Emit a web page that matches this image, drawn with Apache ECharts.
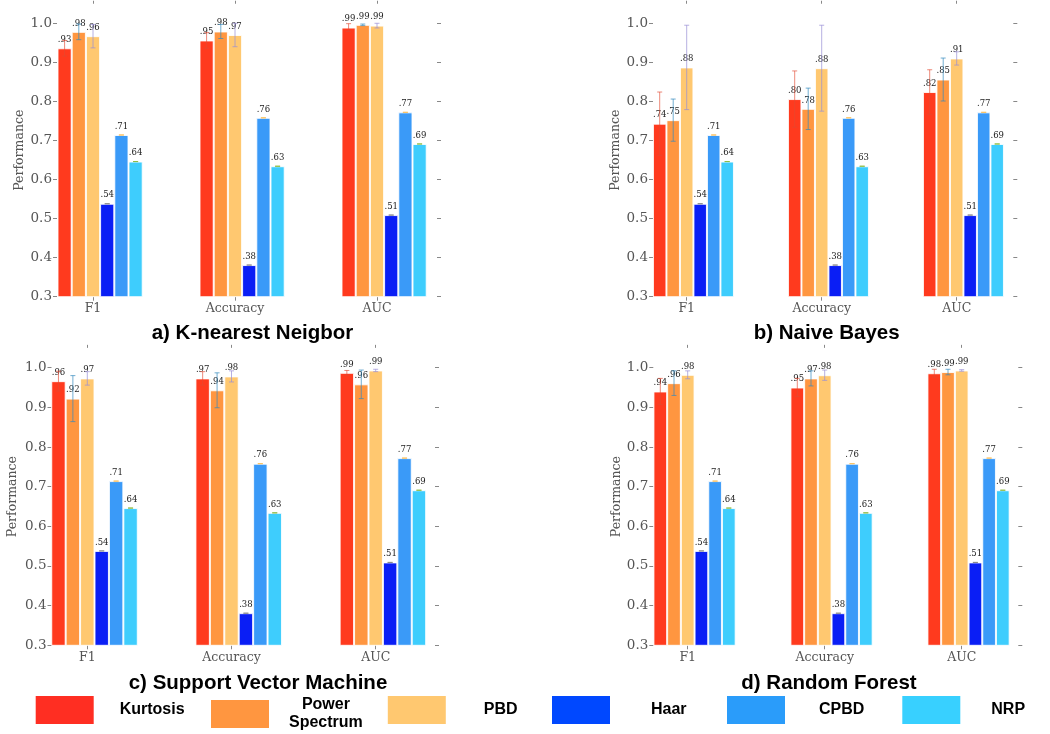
<!DOCTYPE html>
<html>
<head>
<meta charset="utf-8">
<script src="https://cdn.jsdelivr.net/npm/echarts@6/dist/echarts.min.js"></script>
<style>html,body{margin:0;padding:0;background:#fff;}#chart{width:1050px;height:734px;}</style>
</head>
<body>
<div id="chart"></div>
<script>
// ---------------- data ----------------
const categories = ['F1', 'Accuracy', 'AUC'];
const methods = ['Kurtosis', 'Power Spectrum', 'PBD', 'Haar', 'CPBD', 'NRP'];
const panelTitles = ['a) K-nearest Neigbor', 'b) Naive Bayes', 'c) Support Vector Machine', 'd) Random Forest'];
const yTickValues = [0.3, 0.4, 0.5, 0.6, 0.7, 0.8, 0.9, 1.0];

// values per method: [F1, Accuracy, AUC]
const knnValues = [[0.936, 0.956, 0.989], [0.978, 0.979, 0.996], [0.967, 0.970, 0.994], [0.538, 0.381, 0.509], [0.714, 0.758, 0.772], [0.646, 0.634, 0.691]];
const knnErrors = [[0.020, 0.020, 0.010], [0.020, 0.018, 0.002], [0.030, 0.030, 0.006], [0, 0, 0], [0, 0, 0], [0, 0, 0]];
const knnLabels = [['.93', '.95', '.99'], ['.98', '.98', '.99'], ['.96', '.97', '.99'], ['.54', '.38', '.51'], ['.71', '.76', '.77'], ['.64', '.63', '.69']];

const nbValues = [[0.743, 0.806, 0.824], [0.752, 0.781, 0.856], [0.887, 0.885, 0.910], [0.538, 0.381, 0.509], [0.714, 0.758, 0.772], [0.646, 0.634, 0.691]];
const nbErrors = [[0.081, 0.072, 0.057], [0.054, 0.053, 0.055], [0.108, 0.110, 0.017], [0, 0, 0], [0, 0, 0], [0, 0, 0]];
const nbLabels = [['.74', '.80', '.82'], ['.75', '.78', '.85'], ['.88', '.88', '.91'], ['.54', '.38', '.51'], ['.71', '.76', '.77'], ['.64', '.63', '.69']];

const svmValues = [[0.966, 0.973, 0.987], [0.922, 0.943, 0.958], [0.973, 0.978, 0.993], [0.538, 0.381, 0.509], [0.714, 0.758, 0.772], [0.646, 0.634, 0.691]];
const svmErrors = [[0.025, 0.017, 0.006], [0.058, 0.044, 0.036], [0.017, 0.014, 0.003], [0, 0, 0], [0, 0, 0], [0, 0, 0]];
const svmLabels = [['.96', '.97', '.99'], ['.92', '.94', '.96'], ['.97', '.98', '.99'], ['.54', '.38', '.51'], ['.71', '.76', '.77'], ['.64', '.63', '.69']];

const rfValues = [[0.940, 0.950, 0.986], [0.961, 0.973, 0.989], [0.982, 0.981, 0.993], [0.538, 0.381, 0.509], [0.714, 0.758, 0.772], [0.646, 0.634, 0.691]];
const rfErrors = [[0.033, 0.023, 0.010], [0.031, 0.019, 0.007], [0.010, 0.013, 0.002], [0, 0, 0], [0, 0, 0], [0, 0, 0]];
const rfLabels = [['.94', '.95', '.98'], ['.96', '.97', '.99'], ['.98', '.98', '.99'], ['.54', '.38', '.51'], ['.71', '.76', '.77'], ['.64', '.63', '.69']];

// ---------------- styles ----------------
const barColors = ['#FF3A1E', '#FF9640', '#FFC870', '#0A1EF5', '#3A9AF8', '#3ECDFD'];
const legendColors = ['#FF2E22', '#FF9640', '#FFC870', '#0048FF', '#2A9CFA', '#38D0FF'];
const errColors = ['rgba(226,74,51,0.65)', 'rgba(52,138,189,0.7)', 'rgba(152,142,213,0.7)', 'rgba(119,119,119,0.7)', 'rgba(251,193,94,0.9)', 'rgba(142,186,66,0.9)'];

const panels = [
  { values: knnValues, errors: knnErrors, labels: knnLabels },
  { values: nbValues, errors: nbErrors, labels: nbLabels },
  { values: svmValues, errors: svmErrors, labels: svmLabels },
  { values: rfValues, errors: rfErrors, labels: rfLabels }
];

// layout
const grids = [
  { left: 22, top: 3.75, width: 426, height: 292.95, yOff: -35, rOff: -11, nameGap: 31 },
  { left: 619.2, top: 3.75, width: 405, height: 292.95, yOff: -33.8, rOff: -10.9, nameGap: 29 },
  { left: 15.2, top: 347.85, width: 432.6, height: 297.45, yOff: -36.3, rOff: -12.8, nameGap: 32 },
  { left: 619.2, top: 347.85, width: 411, height: 297.45, yOff: -34.1, rOff: -11.9, nameGap: 29 }
];
const titlePos = [[252.5, 323], [826.7, 323], [258, 673], [829, 673]];
const legendPos = [
  { left: 35.7, pad: 21 }, { left: 211, pad: 15 }, { left: 387.8, pad: 33 },
  { left: 552, pad: 36 }, { left: 727, pad: 29 }, { left: 902.3, pad: 26 }
];

const SERIF = 'DejaVu Serif';
const SANS = 'Liberation Sans';

const option = {
  backgroundColor: '#fff',
  animation: false,
  title: panelTitles.map((t, i) => ({
    text: t, left: titlePos[i][0], top: titlePos[i][1], textAlign: 'center', padding: 0,
    textStyle: { fontFamily: SANS, fontWeight: 'bold', fontSize: 20.5, color: '#000' }
  })),
  legend: methods.map((m, k) => ({
    data: [{ name: m, itemStyle: { color: legendColors[k], borderWidth: 0 } }],
    left: legendPos[k].left, top: 696, padding: 0,
    icon: 'rect', itemWidth: 58, itemHeight: 28, selectedMode: false,
    formatter: m === 'Power Spectrum' ? '{c|Power}\n{c|Spectrum}' : undefined,
    textStyle: {
      fontFamily: SANS, fontWeight: 'bold', fontSize: 16, color: '#000',
      padding: [0, 0, 0, legendPos[k].pad], lineHeight: 18,
      rich: { c: { align: 'center', fontFamily: SANS, fontWeight: 'bold', fontSize: 16, color: '#000', lineHeight: 18 } }
    }
  })),
  grid: grids.map(g => ({ left: g.left, top: g.top, width: g.width, height: g.height, containLabel: false })),
  xAxis: [],
  yAxis: [],
  series: []
};

grids.forEach((g, p) => {
  const tickStyle = { show: true, length: 4, lineStyle: { color: '#888', width: 1 } };
  option.xAxis.push({
    type: 'category', gridIndex: p, data: categories, position: 'bottom',
    axisLine: { show: false },
    axisTick: Object.assign({ alignWithLabel: true }, tickStyle),
    axisLabel: { margin: 6, fontFamily: SERIF, fontSize: 12.5, color: '#555' }
  });
  option.xAxis.push({
    type: 'category', gridIndex: p, data: categories, position: 'top',
    axisLine: { show: false },
    axisTick: Object.assign({ alignWithLabel: true }, tickStyle, { length: 3 }),
    axisLabel: { show: false }
  });
  option.yAxis.push({
    type: 'value', gridIndex: p, position: 'left', min: 0.3, max: 1.05, interval: 0.1,
    offset: g.yOff,
    name: 'Performance', nameLocation: 'middle', nameGap: g.nameGap,
    nameTextStyle: { fontFamily: SERIF, fontSize: 12.5, color: '#555' },
    axisLine: { show: false }, splitLine: { show: false },
    axisTick: Object.assign({ customValues: yTickValues }, tickStyle),
    axisLabel: { customValues: yTickValues, margin: 5, fontFamily: SERIF, fontSize: 13.5, color: '#555',
      formatter: v => v.toFixed(1) }
  });
  option.yAxis.push({
    type: 'value', gridIndex: p, position: 'right', min: 0.3, max: 1.05, interval: 0.1,
    offset: g.rOff,
    axisLine: { show: false }, splitLine: { show: false },
    axisTick: Object.assign({ customValues: yTickValues }, tickStyle),
    axisLabel: { show: false }
  });

  const xi = 2 * p, yi = 2 * p;
  const P = panels[p];
  // empty leading slot (keeps category tick on the third bar, as in the original)
  option.series.push({
    type: 'bar', name: '_slot', xAxisIndex: xi, yAxisIndex: yi, data: ['-', '-', '-'],
    barGap: '0%', barCategoryGap: '30%', silent: true
  });
  methods.forEach((m, k) => {
    option.series.push({
      type: 'bar', name: m, xAxisIndex: xi, yAxisIndex: yi, data: P.values[k],
      barGap: '0%', barCategoryGap: '30%', z: 2,
      itemStyle: { color: barColors[k], borderColor: 'rgba(255,255,255,0.85)', borderWidth: 1 },
      label: {
        show: true, position: 'top', distance: 4, fontFamily: SERIF, fontSize: 8.5, color: '#222',
        formatter: (prm) => P.labels[k][prm.dataIndex]
      }
    });
  });
  methods.forEach((m, k) => {
    option.series.push({
      type: 'custom', name: 'err ' + m, xAxisIndex: xi, yAxisIndex: yi, z: 3, silent: true,
      encode: { x: 0, y: [1, 2] },
      data: categories.map((c, i) => [i, P.values[k][i] - P.errors[k][i], P.values[k][i] + P.errors[k][i]]),
      renderItem: (params, api) => {
        const idx = api.value(0);
        const band = api.size([1, 0])[0];
        const off = (k + 1 - 3) * band * 0.1;
        const top = api.coord([idx, api.value(2)]);
        const bot = api.coord([idx, api.value(1)]);
        const x = top[0] + off;
        const cap = 2.5;
        const style = { stroke: errColors[k], lineWidth: 1, fill: null };
        return {
          type: 'group',
          children: [
            { type: 'line', shape: { x1: x, y1: top[1], x2: x, y2: bot[1] }, style },
            { type: 'line', shape: { x1: x - cap, y1: top[1], x2: x + cap, y2: top[1] }, style },
            { type: 'line', shape: { x1: x - cap, y1: bot[1], x2: x + cap, y2: bot[1] }, style }
          ]
        };
      }
    });
  });
});

const chart = echarts.init(document.getElementById('chart'), null, { renderer: 'canvas' });
chart.setOption(option);
</script>
</body>
</html>
